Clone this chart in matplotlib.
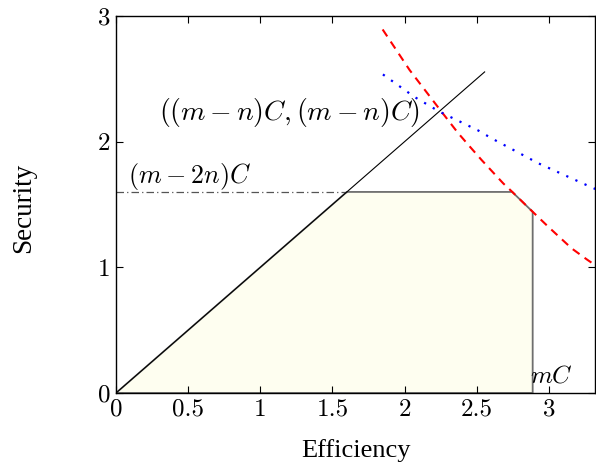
import matplotlib
matplotlib.use("Agg")
import matplotlib.pyplot as plt
from matplotlib.patches import Polygon

plt.rcParams['mathtext.fontset'] = 'cm'
plt.rcParams['font.family'] = ['cmr10', 'DejaVu Serif']
plt.rcParams['axes.formatter.use_mathtext'] = True

# ---- data ----
xticks = [0, 0.5, 1, 1.5, 2, 2.5, 3]
xticklabels = ['0', '0.5', '1', '1.5', '2', '2.5', '3']
yticks = [0, 1, 2, 3]
yticklabels = ['0', '1', '2', '3']

# diagonal line y = x
diag_x = [0, 2.555]
diag_y = [0, 2.555]

# level (m-2n)C
level_x = [0, 1.6]
level_y = [1.6, 1.6]

# feasible region polygon
region_x = [0, 1.6, 2.746, 2.888, 2.888]
region_y = [0, 1.6, 1.6, 1.442, 0]

# red dashed curve
red_x = [1.848, 2.035, 2.245, 2.37, 2.453, 2.534, 2.684, 2.746, 2.888, 2.996, 3.158, 3.262, 3.33]
red_y = [2.893, 2.57, 2.255, 2.07, 1.96, 1.854, 1.668, 1.601, 1.442, 1.323, 1.151, 1.064, 1.01]

# blue dotted curve
blue_x = [1.85, 2.07, 2.243, 2.509, 2.606, 2.929, 3.303, 3.33]
blue_y = [2.535, 2.355, 2.238, 2.09, 2.025, 1.827, 1.633, 1.62]

fig = plt.figure(figsize=(5.96, 4.68), dpi=100)
ax = fig.add_axes([116/596, 1-393/468, (595-116)/596, (393-16)/468])

ax.add_patch(Polygon(list(zip(region_x, region_y)), closed=True,
                     facecolor='#fefef0', edgecolor='#6e6e6e', linewidth=1.3, zorder=1))
ax.plot(level_x, level_y, color='#555555', linestyle=(0, (6, 2.5, 1, 2.5)), linewidth=0.9, zorder=2)
ax.plot(diag_x, diag_y, color='black', linewidth=0.8, zorder=3)
ax.plot(red_x, red_y, color='red', linestyle=(0, (4, 3)), linewidth=1.5, zorder=4)
ax.plot(blue_x, blue_y, color='blue', linestyle=(0, (1, 3.5)), linewidth=1.6, zorder=4)

ax.text(0.3, 2.235, r'$((m-n)C,(m-n)C)$', fontsize=20, va='center', ha='left')
ax.text(0.08, 1.60, r'$(m-2n)C$', fontsize=18.8, va='bottom', ha='left')
ax.text(2.87, 0.04, r'$mC$', fontsize=18, va='bottom', ha='left')

ax.set_xlim(0, 3.32)
ax.set_ylim(0, 3)
ax.set_xticks(xticks)
ax.set_xticklabels(xticklabels)
ax.set_yticks(yticks)
ax.set_yticklabels(yticklabels)
ax.tick_params(direction='in', length=5, width=0.8, top=True, right=True,
               labelsize=18, pad=4)
for s in ax.spines.values():
    s.set_linewidth(1.0)

ax.set_xlabel('Efficiency', fontsize=19, family='Liberation Serif')
ax.xaxis.set_label_coords(0.5, -0.121)
ax.set_ylabel('Security', fontsize=19.5, family='Liberation Serif')
ax.yaxis.set_label_coords(-0.167, 0.492)

fig.savefig('out.png', dpi=100)
